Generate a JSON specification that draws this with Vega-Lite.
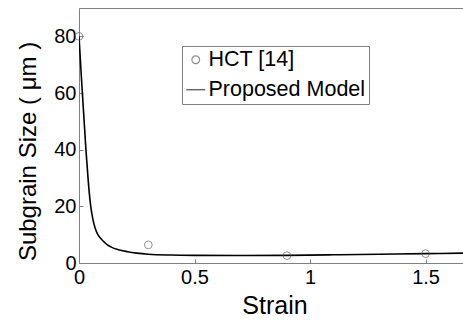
{
  "$schema": "https://vega.github.io/schema/vega-lite/v6.json",
  "width": 384,
  "height": 255,
  "autosize": {"type": "none"},
  "padding": {"left": 79, "top": 8, "right": 0, "bottom": 57},
  "background": "white",
  "config": {
    "font": "Liberation Sans",
    "view": {"stroke": "#808080", "strokeWidth": 1},
    "axis": {
      "grid": false,
      "domainColor": "#808080",
      "tickColor": "#808080",
      "labelColor": "black",
      "titleColor": "black",
      "labelFontSize": 20,
      "titleFontSize": 24,
      "titleFontWeight": "normal",
      "labelFlush": false,
      "tickSize": -4
    }
  },
  "data": {
    "values": [
      {"strain": 0, "size": 80, "series": "HCT [14]"},
      {"strain": 0.3, "size": 6.4, "series": "HCT [14]"},
      {"strain": 0.9, "size": 2.6, "series": "HCT [14]"},
      {"strain": 1.5, "size": 3.3, "series": "HCT [14]"},
      {"strain": 0, "size": 80, "series": "Proposed Model"},
      {"strain": 0.01, "size": 66, "series": "Proposed Model"},
      {"strain": 0.02, "size": 53, "series": "Proposed Model"},
      {"strain": 0.03, "size": 40, "series": "Proposed Model"},
      {"strain": 0.04, "size": 29, "series": "Proposed Model"},
      {"strain": 0.05, "size": 20.5, "series": "Proposed Model"},
      {"strain": 0.06, "size": 15.5, "series": "Proposed Model"},
      {"strain": 0.07, "size": 12.3, "series": "Proposed Model"},
      {"strain": 0.08, "size": 10.3, "series": "Proposed Model"},
      {"strain": 0.1, "size": 8.1, "series": "Proposed Model"},
      {"strain": 0.12, "size": 6.6, "series": "Proposed Model"},
      {"strain": 0.14, "size": 5.6, "series": "Proposed Model"},
      {"strain": 0.17, "size": 4.7, "series": "Proposed Model"},
      {"strain": 0.21, "size": 4.0, "series": "Proposed Model"},
      {"strain": 0.25, "size": 3.5, "series": "Proposed Model"},
      {"strain": 0.3, "size": 3.1, "series": "Proposed Model"},
      {"strain": 0.4, "size": 2.8, "series": "Proposed Model"},
      {"strain": 0.5, "size": 2.7, "series": "Proposed Model"},
      {"strain": 0.7, "size": 2.65, "series": "Proposed Model"},
      {"strain": 0.9, "size": 2.7, "series": "Proposed Model"},
      {"strain": 1.1, "size": 2.9, "series": "Proposed Model"},
      {"strain": 1.3, "size": 3.1, "series": "Proposed Model"},
      {"strain": 1.5, "size": 3.3, "series": "Proposed Model"},
      {"strain": 1.662, "size": 3.5, "series": "Proposed Model"}
    ]
  },
  "encoding": {
    "x": {
      "field": "strain",
      "type": "quantitative",
      "scale": {"domain": [0, 1.662], "nice": false, "zero": false},
      "axis": {
        "title": "Strain",
        "values": [0, 0.5, 1, 1.5],
        "format": "~r",
        "labelPadding": 8,
        "titleFontSize": 25,
        "titleX": 195.5,
        "titleY": 50,
        "titleBaseline": "alphabetic"
      }
    },
    "y": {
      "field": "size",
      "type": "quantitative",
      "scale": {"domain": [0, 90], "nice": false},
      "axis": {
        "title": "Subgrain Size ( μm )",
        "values": [0, 20, 40, 60, 80],
        "format": "d",
        "labelPadding": 7,
        "titleX": -44,
        "titleY": 143,
        "titleAngle": 270,
        "titleAlign": "center",
        "titleBaseline": "alphabetic"
      }
    },
    "color": {
      "field": "series",
      "type": "nominal",
      "scale": {"domain": ["HCT [14]", "Proposed Model"], "range": ["#606060", "black"]},
      "legend": {
        "title": null,
        "orient": "none",
        "legendX": 103,
        "legendY": 38,
        "labelFontSize": 21.5,
        "labelColor": "black",
        "labelOffset": 2,
        "rowPadding": 7,
        "padding": 3,
        "strokeColor": "#808080",
        "fillColor": "white",
        "symbolStrokeWidth": 1.2
      }
    }
  },
  "layer": [
    {
      "transform": [{"filter": "datum.series === 'Proposed Model'"}],
      "mark": {"type": "line", "strokeWidth": 1.6, "interpolate": "monotone", "clip": true}
    },
    {
      "transform": [{"filter": "datum.series === 'HCT [14]'"}],
      "mark": {"type": "point", "filled": false, "strokeWidth": 1, "clip": false},
      "encoding": {
        "shape": {
          "field": "series",
          "type": "nominal",
          "scale": {"domain": ["HCT [14]", "Proposed Model"], "range": ["circle", "stroke"]}
        },
        "size": {
          "field": "series",
          "type": "nominal",
          "scale": {"domain": ["HCT [14]", "Proposed Model"], "range": [60, 361]}
        }
      }
    }
  ]
}
